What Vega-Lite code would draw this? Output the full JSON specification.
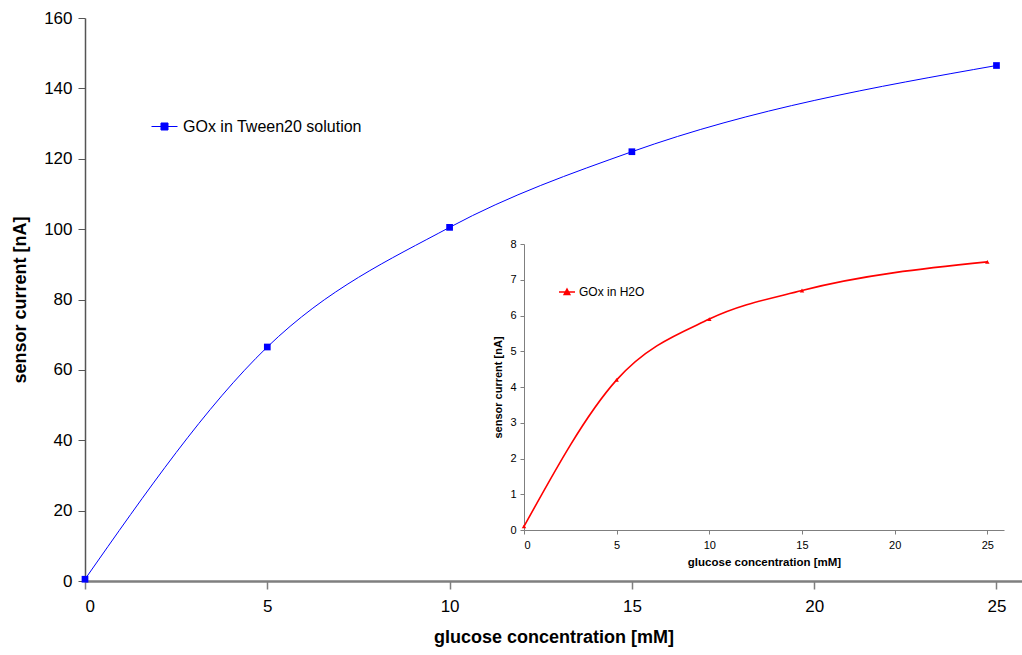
{
  "$schema": "https://vega.github.io/schema/vega-lite/v6.json",
  "width": 937,
  "height": 563,
  "autosize": "none",
  "padding": {"left": 85, "top": 18, "right": 0, "bottom": 74},
  "background": "white",
  "config": {
    "view": {"stroke": null},
    "font": "Liberation Sans",
    "axis": {"grid": false, "labelColor": "black", "titleColor": "black"}
  },
  "layer": [
    {
      "data": {"values": [
        {"series": "GOx in Tween20 solution", "conc": 0, "current": 0.5},
        {"series": "GOx in Tween20 solution", "conc": 5, "current": 66.5},
        {"series": "GOx in Tween20 solution", "conc": 10, "current": 100.5},
        {"series": "GOx in Tween20 solution", "conc": 15, "current": 122},
        {"series": "GOx in Tween20 solution", "conc": 25, "current": 146.5}
      ]},
      "encoding": {
        "x": {"field": "conc", "type": "quantitative",
          "scale": {"domain": [0, 25.7], "nice": false, "zero": false},
          "axis": {"orient": "bottom", "values": [0, 5, 10, 15, 20, 25], "title": "glucose concentration [mM]",
            "labelFontSize": 17, "titleFontSize": 18, "titleFontWeight": "bold", "labelPadding": 9, "titlePadding": 14,
            "domainColor": "#7f7f7f", "domainWidth": 2.5, "tickColor": "#7f7f7f", "tickWidth": 1.5, "tickSize": 8}},
        "y": {"field": "current", "type": "quantitative",
          "scale": {"domain": [0, 160], "nice": false},
          "axis": {"orient": "left", "values": [0, 20, 40, 60, 80, 100, 120, 140, 160], "title": "sensor current [nA]",
            "labelFontSize": 17, "titleFontSize": 18, "titleFontWeight": "bold", "labelPadding": 6, "titlePadding": 14,
            "domainColor": "#555555", "domainWidth": 1.5, "tickColor": "#555555", "tickSize": 7}}
      },
      "layer": [
        {"mark": {"type": "line", "interpolate": "monotone", "strokeWidth": 1},
         "encoding": {
          "color": {"field": "series", "type": "nominal",
            "scale": {"range": ["#0000ff"]},
            "legend": {"orient": "none", "legendX": 66, "legendY": 95, "title": null,
              "symbolType": "M-1,0H1M-0.27,-0.27H0.27V0.27H-0.27Z", "symbolSize": 676,
              "symbolFillColor": "#0000ff", "symbolStrokeColor": "#0000ff", "symbolStrokeWidth": 1,
              "labelFontSize": 16, "labelColor": "black", "labelOffset": 5, "labelLimit": 400}}
         }},
        {"mark": {"type": "point", "shape": "square", "filled": true, "size": 45, "opacity": 1, "color": "#0000ff"}}
      ]
    },
    {
      "data": {"values": [
        {"series": "GOx in H2O", "conc": 0, "current": 0.1},
        {"series": "GOx in H2O", "conc": 5, "current": 4.2},
        {"series": "GOx in H2O", "conc": 10, "current": 5.9},
        {"series": "GOx in H2O", "conc": 15, "current": 6.7},
        {"series": "GOx in H2O", "conc": 25, "current": 7.5}
      ]},
      "encoding": {
        "x": {"field": "conc", "type": "quantitative",
          "scale": {"domain": [0, 25.9], "nice": false, "zero": false, "range": [439, 919]},
          "axis": {"orient": "bottom", "offset": -51, "values": [0, 5, 10, 15, 20, 25], "title": "glucose concentration [mM]",
            "labelFontSize": 11, "titleFontSize": 11.5, "titleFontWeight": "bold", "labelPadding": 5, "titlePadding": 6,
            "domainColor": "#7f7f7f", "tickColor": "#7f7f7f", "tickSize": 4}},
        "y": {"field": "current", "type": "quantitative",
          "scale": {"domain": [0, 8], "nice": false, "range": [512, 226]},
          "axis": {"orient": "left", "offset": -439, "values": [0, 1, 2, 3, 4, 5, 6, 7, 8], "title": "sensor current [nA]",
            "labelFontSize": 11, "titleFontSize": 11, "titleFontWeight": "bold", "labelPadding": 4, "titlePadding": 6,
            "domainColor": "#7f7f7f", "tickColor": "#7f7f7f", "tickSize": 4}}
      },
      "layer": [
        {"mark": {"type": "line", "interpolate": "monotone", "strokeWidth": 1.6},
         "encoding": {
          "color": {"field": "series", "type": "nominal",
            "scale": {"range": ["#ff0000"]},
            "legend": {"orient": "none", "legendX": 473, "legendY": 265, "title": null,
              "symbolType": "M-1,0H1M-0.35,0.3L0,-0.35L0.35,0.3Z", "symbolSize": 256,
              "symbolFillColor": "#ff0000", "symbolStrokeColor": "#ff0000", "symbolStrokeWidth": 1.5,
              "labelFontSize": 12, "labelColor": "black", "labelOffset": 3, "labelLimit": 300}}
         }},
        {"mark": {"type": "point", "shape": "triangle-up", "filled": true, "size": 20, "opacity": 1, "color": "#ff0000"}}
      ]
    }
  ],
  "resolve": {
    "scale": {"x": "independent", "y": "independent", "color": "independent"},
    "axis": {"x": "independent", "y": "independent"},
    "legend": {"color": "independent"}
  }
}
